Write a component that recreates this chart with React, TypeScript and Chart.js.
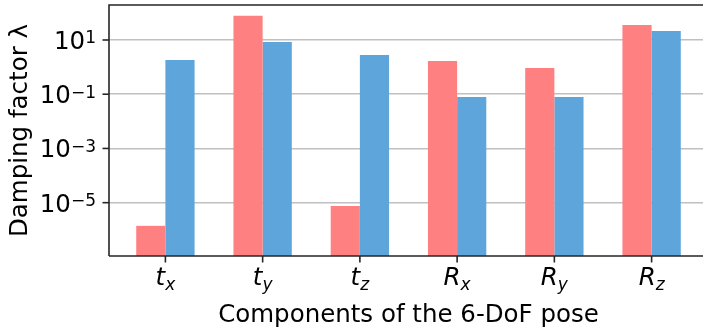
import { useEffect, useRef } from 'react';
import { Chart, registerables } from 'chart.js';

Chart.register(...registerables);

// ---- data ----
const categoryMain = ['t', 't', 't', 'R', 'R', 'R'];
const categorySub = ['x', 'y', 'z', 'x', 'y', 'z'];
const seriesPink = [1.4e-6, 78.7, 7.6e-6, 1.68, 0.93, 35.7];
const seriesBlue = [1.83, 8.4, 2.8, 0.079, 0.079, 21.5];
const yTickExponents = [-5, -3, -1, 1];
const yLabel = 'Damping factor λ';
const xLabel = 'Components of the 6-DoF pose';

const FONT = '"DejaVu Sans", sans-serif';
const SPINE = '#262626';
const MAIN = 24.5;
const SMALL = 17;

const decor = {
  id: 'decor',
  afterDraw(chart: any) {
    const { ctx, chartArea: ca, scales } = chart;
    const xs = scales.x;
    const ys = scales.y;
    ctx.save();
    ctx.strokeStyle = SPINE;
    ctx.lineWidth = 1.6;
    ctx.beginPath();
    ctx.moveTo(ca.left, ca.bottom);
    ctx.lineTo(ca.left, ca.top);
    ctx.lineTo(ca.right, ca.top);
    ctx.moveTo(ca.left, ca.bottom);
    ctx.lineTo(ca.right, ca.bottom);
    ctx.stroke();

    ctx.fillStyle = '#000';
    // y ticks
    yTickExponents.forEach((e) => {
      const y = ys.getPixelForValue(Math.pow(10, e));
      ctx.beginPath();
      ctx.moveTo(ca.left - 6.5, y);
      ctx.lineTo(ca.left, y);
      ctx.stroke();
      const exp = e < 0 ? '\u2212' + Math.abs(e) : String(e);
      ctx.font = SMALL + 'px ' + FONT;
      const ew = ctx.measureText(exp).width;
      ctx.font = MAIN + 'px ' + FONT;
      const bw = ctx.measureText('10').width;
      const right = ca.left - 13;
      ctx.textAlign = 'left';
      ctx.textBaseline = 'alphabetic';
      ctx.fillText('10', right - ew - bw, y + 9);
      ctx.font = SMALL + 'px ' + FONT;
      ctx.fillText(exp, right - ew, y + 3.4);
    });

    // x ticks
    categoryMain.forEach((m, i) => {
      const cx = xs.getPixelForValue(i);
      ctx.beginPath();
      ctx.moveTo(cx, ca.bottom);
      ctx.lineTo(cx, ca.bottom + 6.5);
      ctx.stroke();
      ctx.font = 'italic ' + MAIN + 'px ' + FONT;
      const mw = ctx.measureText(m).width;
      ctx.font = 'italic ' + SMALL + 'px ' + FONT;
      const sw = ctx.measureText(categorySub[i]).width;
      const start = cx - (mw + sw) / 2;
      ctx.textAlign = 'left';
      ctx.textBaseline = 'alphabetic';
      ctx.font = 'italic ' + MAIN + 'px ' + FONT;
      ctx.fillText(m, start, ca.bottom + 29);
      ctx.font = 'italic ' + SMALL + 'px ' + FONT;
      ctx.fillText(categorySub[i], start + mw, ca.bottom + 33.5);
    });

    // axis titles
    ctx.font = MAIN + 'px ' + FONT;
    ctx.textAlign = 'center';
    ctx.textBaseline = 'alphabetic';
    ctx.fillText(xLabel, xs.getPixelForValue(2.5), 321.7);
    ctx.save();
    ctx.translate(27, (ca.top + ca.bottom) / 2);
    ctx.rotate(-Math.PI / 2);
    ctx.fillText(yLabel, 0, 0);
    ctx.restore();
    ctx.restore();
  },
};

export default function App() {
  const ref = useRef<HTMLCanvasElement | null>(null);
  useEffect(() => {
    if (!ref.current) return;
    const chart = new Chart(ref.current, {
      type: 'bar',
      data: {
        datasets: [
          {
            data: seriesPink.map((v, i) => ({ x: i, y: v })),
            backgroundColor: '#FF8080',
            borderWidth: 0,
            categoryPercentage: 0.6,
            barPercentage: 1,
          },
          {
            data: seriesBlue.map((v, i) => ({ x: i, y: v })),
            backgroundColor: '#5DA5DA',
            borderWidth: 0,
            categoryPercentage: 0.6,
            barPercentage: 1,
          },
        ],
      } as any,
      options: {
        animation: false,
        responsive: false,
        devicePixelRatio: 1,
        layout: { padding: { top: 5, right: 0, left: 0, bottom: 0 } },
        plugins: { legend: { display: false }, tooltip: { enabled: false } },
        scales: {
          x: {
            type: 'linear',
            offset: false,
            min: -0.58,
            max: 5.58,
            grid: { display: false, offset: false },
            border: { display: false },
            ticks: { display: false },
            afterBuildTicks: (s: any) => {
              s.ticks = categoryMain.map((_, i) => ({ value: i }));
            },
            afterFit: (s: any) => {
              s.height = 73;
            },
          },
          y: {
            type: 'logarithmic',
            min: 1.08e-7,
            max: 195.3,
            grid: { color: '#c0c0c0', lineWidth: 1.5, drawTicks: false },
            border: { display: false },
            ticks: { display: false },
            afterBuildTicks: (s: any) => {
              s.ticks = yTickExponents.map((e) => ({ value: Math.pow(10, e) }));
            },
            afterFit: (s: any) => {
              s.width = 109;
            },
          },
        },
      } as any,
      plugins: [decor],
    });
    return () => chart.destroy();
  }, []);
  return (
    <div
      style={{
        position: 'fixed',
        left: 0,
        top: 0,
        width: 703,
        height: 329,
        overflow: 'hidden',
        background: '#fff',
      }}
    >
      <canvas ref={ref} width={708} height={329} style={{ display: 'block' }} />
    </div>
  );
}
